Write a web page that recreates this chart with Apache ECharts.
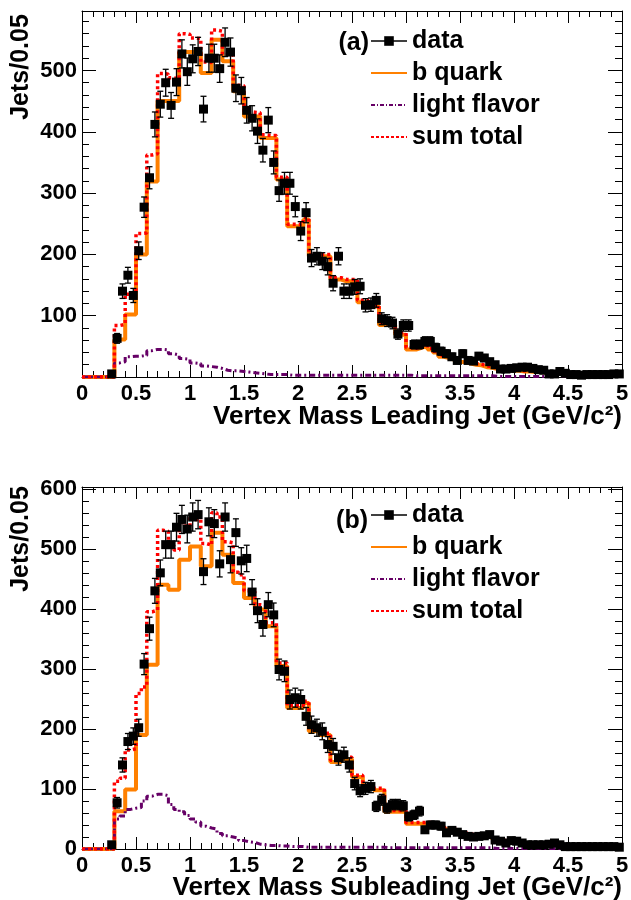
<!DOCTYPE html>
<html>
<head>
<meta charset="utf-8">
<script src="https://cdn.jsdelivr.net/npm/echarts@6/dist/echarts.min.js"></script>
<style>
  html, body { margin: 0; padding: 0; background: #fff; }
  #main { width: 631px; height: 900px; }
</style>
</head>
<body>
<div id="main"></div>
<script>
// 100 bins of 0.05 GeV/c^2 between 0 and 5
const binWidth = 0.05;
const xTicks = [0, 0.5, 1, 1.5, 2, 2.5, 3, 3.5, 4, 4.5, 5];
const seriesNames = ['data', 'b quark', 'light flavor', 'sum total'];

// (a) leading jet
const dataA = [null,null,null,null,null,5,63,140,166,133,
  206,277,325,412,445,480,443,481,527,498,
  519,531,437,520,520,503,546,530,471,467,
  435,422,401,370,419,350,304,316,316,278,
  238,268,194,197,189,180,153,197,140,140,
  147,148,117,118,125,95,92,88,70,84,
  84,53,53,58,58,48,42,38,33,27,
  38,27,26,34,31,25,20,13,13,14,
  15,16,16,14,12,11,5,5,9,6,
  4,4,3,4,4,4,4,4,5,5];
const bQuarkA = [0,0,0,0,0,0,61,61,102,102,
  200,200,319,319,450,450,450,450,530,530,
  530,530,496,496,550,550,515,515,466,466,
  425,425,425,390,390,390,322,322,246,246,
  246,257,197,197,197,197,159,159,156,156,
  156,122,122,115,115,85,85,85,69,69,
  45,45,48,50,45,40,33,31,28,25,
  24,22,20,19,16,15,13,12,11,10,
  10,9,9,8,8,7,6,6,5,5,
  4,4,4,4,3,3,3,3,3,3];
const lightA = [0,0,0,0,0,0,23,25,33,34,
  34,35,43,45,45,44,38,36,30,29,
  23,22,18,17,16,14,11,10,10,9,
  8,7,6,5,4,4,4,4,3,3,
  3,3,3,3,3,3,3,3,3,3,
  3,3,3,3,3,3,3,3,3,3,
  3,2,2,2,2,2,2,2,2,2,
  2,2,2,2,2,2,1,1,1,1,
  1,1,1,1,1,1,1,1,1,1,
  1,1,1,1,1,1,1,1,1,1];
const sumA = [0,0,0,0,0,0,84,86,135,136,
  234,235,362,364,495,494,488,486,560,559,
  553,552,514,513,566,564,526,525,476,475,
  433,432,431,395,394,394,326,326,249,249,
  249,260,200,200,200,200,162,162,159,159,
  159,125,125,118,118,88,88,88,72,72,
  48,47,50,52,47,42,35,33,30,27,
  26,24,22,21,18,17,14,13,12,11,
  11,10,10,9,9,8,7,7,6,6,
  5,5,5,5,4,4,4,4,4,4];

// (b) subleading jet
const dataB = [null,null,null,null,null,7,77,140,179,188,
  202,308,367,430,460,507,507,536,549,533,
  553,557,462,545,542,475,553,482,527,480,
  484,428,397,374,407,390,299,296,249,252,
  249,221,207,202,196,174,171,152,157,140,
  109,97,101,104,71,82,68,74,74,72,
  54,57,63,32,40,40,38,27,31,28,
  24,21,20,21,22,24,15,13,10,14,
  13,10,7,7,7,7,8,10,7,4,
  4,4,4,4,4,4,4,4,4,3];
const bQuarkB = [0,0,0,0,0,0,63,63,99,99,
  190,190,307,307,440,440,432,432,482,482,
  504,504,471,471,527,527,490,490,443,443,
  418,418,399,399,371,371,305,305,235,235,
  235,243,196,196,190,190,145,145,150,150,
  120,120,102,102,98,98,62,62,62,62,
  42,42,42,42,42,40,38,33,31,29,
  25,23,22,21,21,20,16,14,12,12,
  11,10,9,8,8,7,7,7,6,5,
  5,4,4,4,4,4,3,3,3,3];
const lightB = [0,0,0,0,0,0,50,55,66,68,
  69,80,88,91,91,89,74,66,62,56,
  50,45,38,35,33,26,22,20,18,14,
  12,11,8,7,6,6,5,5,4,4,
  4,3,3,3,3,3,3,3,3,3,
  3,3,3,3,3,3,2,2,2,2,
  2,2,2,2,2,2,2,2,2,2,
  2,2,2,2,2,2,1,1,1,1,
  1,1,1,1,1,1,1,1,1,1,
  1,1,1,1,1,1,1,1,1,1];
const sumB = [0,0,0,0,0,0,113,118,165,167,
  259,270,395,398,531,529,506,498,544,538,
  554,549,509,506,560,553,512,510,461,457,
  430,429,407,406,377,377,310,310,239,239,
  239,246,199,199,193,193,148,148,153,153,
  123,123,105,105,101,101,64,64,64,64,
  44,44,44,44,44,42,40,35,33,31,
  27,25,24,23,23,22,17,15,13,13,
  12,11,10,9,9,8,8,8,7,6,
  6,5,5,5,5,5,4,4,4,4];

const FONT = "'Liberation Sans', Arial, Helvetica, sans-serif";
const ORANGE = '#ff8000';
const RED = '#ff0000';
const PURPLE = '#660066';

// histogram outline: one point per lower bin edge, plus the last upper edge
function steps(vals) {
  const pts = vals.map((v, i) => [i * binWidth, v]);
  pts.push([vals.length * binWidth, vals[vals.length - 1]]);
  return pts;
}
function points(vals) {
  const out = [];
  vals.forEach((v, i) => { if (v != null) out.push([i * binWidth + binWidth / 2, v]); });
  return out;
}
function errors(vals) {
  return points(vals).map(p => [p[0], p[1], Math.sqrt(p[1])]);
}

function renderErr(params, api) {
  const x = api.value(0), y = api.value(1), e = api.value(2);
  const hi = api.coord([x, y + e]);
  const lo = api.coord([x, Math.max(0, y - e)]);
  const st = { stroke: '#000', lineWidth: 1.3 };
  const c = 3;
  return {
    type: 'group',
    children: [
      { type: 'line', shape: { x1: hi[0], y1: hi[1], x2: lo[0], y2: lo[1] }, style: st },
      { type: 'line', shape: { x1: hi[0] - c, y1: hi[1], x2: hi[0] + c, y2: hi[1] }, style: st },
      { type: 'line', shape: { x1: lo[0] - c, y1: lo[1], x2: lo[0] + c, y2: lo[1] }, style: st }
    ]
  };
}

function panelSeries(xi, yi, data, bq, lf, sum) {
  return [
    { name: 'b quark', type: 'line', xAxisIndex: xi, yAxisIndex: yi, step: 'end', symbol: 'none',
      data: steps(bq), lineStyle: { color: ORANGE, width: 4 }, itemStyle: { color: ORANGE }, z: 2 },
    { name: 'light flavor', type: 'line', xAxisIndex: xi, yAxisIndex: yi, step: 'end', symbol: 'none',
      data: steps(lf), lineStyle: { color: PURPLE, width: 3, type: [6, 3, 2, 3] }, itemStyle: { color: PURPLE }, z: 3 },
    { name: 'sum total', type: 'line', xAxisIndex: xi, yAxisIndex: yi, step: 'end', symbol: 'none',
      data: steps(sum), lineStyle: { color: RED, width: 3.5, type: [3, 3] }, itemStyle: { color: RED }, z: 4 },
    { name: 'data-err', type: 'custom', xAxisIndex: xi, yAxisIndex: yi, renderItem: renderErr,
      data: errors(data), z: 5, clip: true },
    { name: 'data', type: 'line', xAxisIndex: xi, yAxisIndex: yi, symbol: 'rect', symbolSize: 9,
      showSymbol: true, data: points(data), lineStyle: { width: 0, opacity: 0 },
      itemStyle: { color: '#000' }, z: 6 }
  ];
}

const labelStyle = { fontSize: 22, fontWeight: 'bold', color: '#000', fontFamily: FONT };

function xAxis(grid, pos) {
  return {
    type: 'value', gridIndex: grid, position: pos, min: xTicks[0], max: xTicks[xTicks.length - 1],
    interval: xTicks[1] - xTicks[0],
    axisLine: { show: true, onZero: false, lineStyle: { color: '#000', width: 1 } },
    axisTick: { show: true, inside: true, length: 12, lineStyle: { color: '#000', width: 1 } },
    minorTick: { show: true, splitNumber: 5, length: 6, lineStyle: { color: '#000', width: 1 } },
    splitLine: { show: false }, minorSplitLine: { show: false },
    axisLabel: Object.assign({ show: pos === 'bottom', margin: 6 }, labelStyle)
  };
}
function yAxis(grid, pos, max, showZero) {
  return {
    type: 'value', gridIndex: grid, position: pos, min: 0, max: max, interval: 100,
    axisLine: { show: true, onZero: false, lineStyle: { color: '#000', width: 1 } },
    axisTick: { show: true, inside: true, length: 14, lineStyle: { color: '#000', width: 1 } },
    minorTick: { show: true, splitNumber: 5, length: 7, lineStyle: { color: '#000', width: 1 } },
    splitLine: { show: false }, minorSplitLine: { show: false },
    axisLabel: Object.assign({
      show: pos === 'left', margin: 5,
      formatter: v => (v % 100 === 0 && (v > 0 || showZero)) ? String(v) : ''
    }, labelStyle)
  };
}

function legend(top) {
  const noMarker = { opacity: 0 };
  return {
    orient: 'vertical', left: 370, top: top, padding: 0, itemWidth: 36, itemHeight: 12, itemGap: 6,
    selectedMode: false,
    textStyle: { fontSize: 25, fontWeight: 'bold', color: '#000', fontFamily: FONT, lineHeight: 26 },
    data: [
      { name: 'data', lineStyle: { color: '#000', width: 1.5, opacity: 1 } },
      { name: 'b quark', itemStyle: noMarker, lineStyle: { color: ORANGE, width: 2 } },
      { name: 'light flavor', itemStyle: noMarker, lineStyle: { color: PURPLE, width: 2, type: [4, 2, 1, 2] } },
      { name: 'sum total', itemStyle: noMarker, lineStyle: { color: RED, width: 2, type: [3, 2] } }
    ]
  };
}

function text(str, x, y, align, rot, size) {
  return {
    type: 'text', x: x, y: y, rotation: rot || 0, silent: true,
    style: { text: str, x: 0, y: 0, align: align, verticalAlign: 'middle',
      font: 'bold ' + (size || 25) + 'px ' + FONT, fill: '#000' }
  };
}

const option = {
  animation: false,
  backgroundColor: '#fff',
  grid: [
    { left: 82, right: 9, top: 11, height: 366, outerBoundsMode: 'none' },
    { left: 82, right: 9, top: 487, height: 362, outerBoundsMode: 'none' }
  ],
  xAxis: [xAxis(0, 'bottom'), xAxis(0, 'top'), xAxis(1, 'bottom'), xAxis(1, 'top')],
  yAxis: [yAxis(0, 'left', 597, false), yAxis(0, 'right', 597, false),
          yAxis(1, 'left', 603, true), yAxis(1, 'right', 603, true)],
  legend: [legend(28), legend(502)],
  graphic: [
    text('(a)', 369, 43, 'right'),
    text('(b)', 368, 521, 'right'),
    text('Vertex Mass Leading Jet (GeV/c\u00b2)', 622, 417, 'right', 0, 26),
    text('Vertex Mass Subleading Jet (GeV/c\u00b2)', 622, 888, 'right', 0, 26),
    text('Jets/0.05', 21, 67, 'center', Math.PI / 2),
    text('Jets/0.05', 21, 539, 'center', Math.PI / 2)
  ],
  series: [].concat(
    panelSeries(0, 0, dataA, bQuarkA, lightA, sumA),
    panelSeries(2, 2, dataB, bQuarkB, lightB, sumB)
  )
};

const chart = echarts.init(document.getElementById('main'));
chart.setOption(option);
window.addEventListener('resize', function () { chart.resize(); });
</script>
</body>
</html>
